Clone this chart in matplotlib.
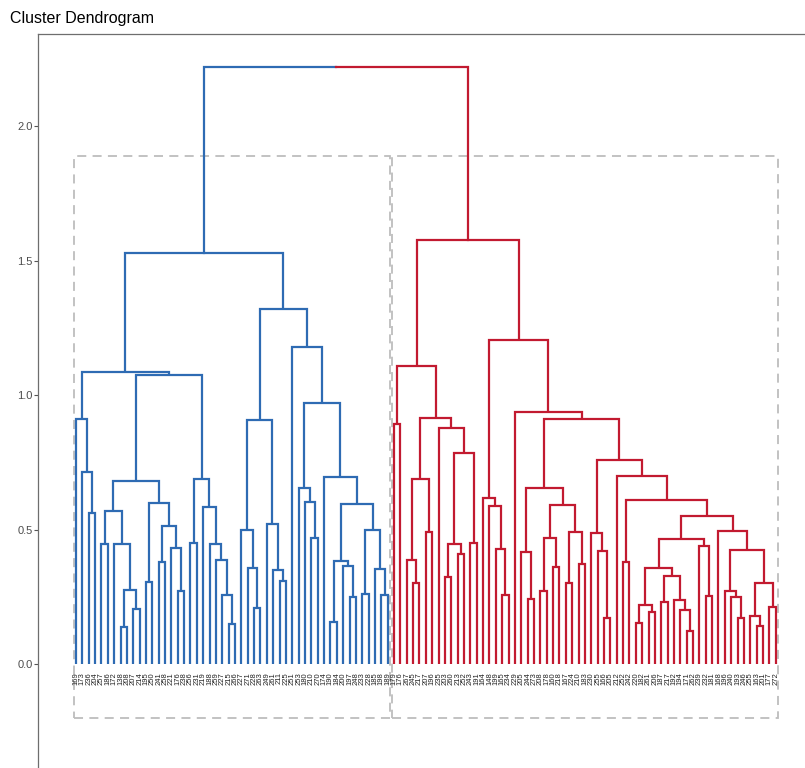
import matplotlib
matplotlib.use("Agg")
import matplotlib.pyplot as plt
from matplotlib.patches import Rectangle

# leaf labels, left to right (small text, estimated)
labels = [
    "169", "173", "236", "204", "257", "186", "172", "138", "208", "207",
    "214", "195", "250", "241", "258", "221", "176", "238", "256", "231",
    "219", "188", "259", "227", "215", "266", "227", "271", "228", "263",
    "249", "261", "211", "225", "251", "253", "180", "210", "270", "174",
    "190", "184", "200", "197", "248", "233", "228", "185", "198", "189",
    "179", "176", "267", "245", "217", "207", "196", "235", "203", "260",
    "213", "252", "243", "191", "164", "148", "199", "165", "234", "229",
    "205", "244", "273", "208", "178", "160", "218", "167", "224", "210",
    "183", "230", "255", "166", "205", "212", "252", "242", "220", "182",
    "261", "206", "187", "217", "192", "194", "171", "262", "239", "232",
    "181", "168", "196", "240", "193", "246", "255", "163", "201", "177",
    "272",
]

# merge heights, nested as (height, left, right); ints are leaf positions
blue_left = (1.085,
    (0.911, 0, (0.714, 1, (0.56, 2, 3))),
    (1.074,
        (0.68,
            (0.57, (0.446, 4, 5), (0.447, 6, (0.275, (0.138, 7, 8), (0.204, 9, 10)))),
            (0.598, (0.305, 11, 12), (0.514, (0.38, 13, 14), (0.433, 15, (0.272, 16, 17))))),
        (0.688, (0.45, 18, 19),
            (0.584, 20, (0.446, 21, (0.387, 22, (0.256, 23, (0.15, 24, 25))))))))

blue_right = (1.32,
    (0.907, (0.5, 26, (0.358, 27, (0.21, 28, 29))),
            (0.52, 30, (0.35, 31, (0.309, 32, 33)))),
    (1.18, 34,
        (0.97, (0.655, 35, (0.603, 36, (0.468, 37, 38))),
            (0.696, 39,
                (0.595, (0.384, (0.157, 40, 41), (0.364, 42, (0.25, 43, 44))),
                        (0.498, (0.262, 45, 46), (0.354, 47, (0.256, 48, 49))))))))

red_left = (1.108,
    (0.892, 50, 51),
    (0.913,
        (0.686, (0.388, 52, (0.302, 53, 54)), (0.49, 55, 56)),
        (0.876, 57, (0.783, (0.447, (0.325, 58, 59), (0.408, 60, 61)),
                            (0.448, 62, 63)))))

red_right = (1.205,
    (0.618, 64, (0.587, 65, (0.428, 66, (0.256, 67, 68)))),
    (0.938, 69, (0.91,
        (0.655, (0.418, 70, (0.24, 71, 72)),
            (0.591, (0.467, (0.271, 73, 74), (0.362, 75, 76)),
                    (0.49, (0.3, 77, 78), (0.372, 79, 80)))),
        (0.76, (0.486, 81, (0.42, 82, (0.17, 83, 84))),
            (0.699, 85, (0.61, (0.379, 86, 87),
                (0.551,
                    (0.463,
                        (0.358, (0.219, (0.151, 88, 89), (0.192, 90, 91)),
                                (0.327, (0.23, 92, 93), (0.237, 94, (0.2, 95, (0.124, 96, 97))))),
                        (0.439, 98, (0.254, 99, 100))),
                    (0.494, 101,
                        (0.424, (0.272, 102, (0.25, 103, (0.17, 104, 105))),
                                (0.3, (0.18, 106, (0.143, 107, 108)), (0.213, 109, 110)))))))))))

blue_tree = (1.528, blue_left, blue_right)
red_tree = (1.575, red_left, red_right)
root_height = 2.22

cluster_colors = ["#2E6BB3", "#C21A30"]
rect_top = 1.89
rect_bottom = -0.2


def draw_node(ax, node, color):
    # returns (x center, height) of node
    if isinstance(node, int):
        return node, 0.0
    h, left, right = node
    xl, hl = draw_node(ax, left, color)
    xr, hr = draw_node(ax, right, color)
    ax.plot([xl, xl, xr, xr], [hl, h, h, hr], color=color, lw=1.6,
            solid_joinstyle="miter", solid_capstyle="butt")
    return (xl + xr) / 2, h


def leaf_range(node):
    if isinstance(node, int):
        return node, node
    a = leaf_range(node[1])
    b = leaf_range(node[2])
    return min(a[0], b[0]), max(a[1], b[1])


fig = plt.figure(figsize=(8.05, 7.68), dpi=100)
ax = fig.add_axes([38 / 805, 0.0, 1 - 38 / 805, 1 - 34 / 768])

tops = []
for tree, col in zip([blue_tree, red_tree], cluster_colors):
    x, h = draw_node(ax, tree, col)
    tops.append((x, h))
    lo, hi = leaf_range(tree)
    ax.add_patch(Rectangle((lo - 0.3, rect_bottom), hi - lo + 0.6, rect_top - rect_bottom,
                           fill=False, edgecolor="#BDBDBD", lw=1.3,
                           linestyle=(0, (5, 3.5)), zorder=0))

# root link, split in the middle between both cluster colours
(xb, hb), (xr, hr) = tops
xm = (xb + xr) / 2
ax.plot([xb, xb, xm], [hb, root_height, root_height], color=cluster_colors[0], lw=1.6,
        solid_joinstyle="miter")
ax.plot([xm, xr, xr], [root_height, root_height, hr], color=cluster_colors[1], lw=1.6,
        solid_joinstyle="miter")

for i, lab in enumerate(labels):
    ax.text(i, -0.03, lab, rotation=90, ha="center", va="top", fontsize=5.5,
            color="#222222", family="Liberation Sans")

ax.set_xlim(-5.97, 114.6)
ax.set_ylim(-0.3866, 2.342)
ax.set_yticks([0.0, 0.5, 1.0, 1.5, 2.0])
ax.set_yticklabels(["0.0", "0.5", "1.0", "1.5", "2.0"])
ax.set_xticks([])
ax.tick_params(axis="y", length=3, width=0.8, color="#555555", labelcolor="#4D4D4D",
               labelsize=8, pad=1)
for lab in ax.get_yticklabels():
    lab.set_family("Liberation Sans")
for side in ["right", "bottom"]:
    ax.spines[side].set_visible(False)
for side in ["left", "top"]:
    ax.spines[side].set_color("#6E6E6E")
    ax.spines[side].set_linewidth(0.9)

fig.text(10 / 805, 1 - 18 / 768, "Cluster Dendrogram", fontsize=11.5, va="center",
         ha="left", family="Liberation Sans")

fig.savefig("out.png", dpi=100)
